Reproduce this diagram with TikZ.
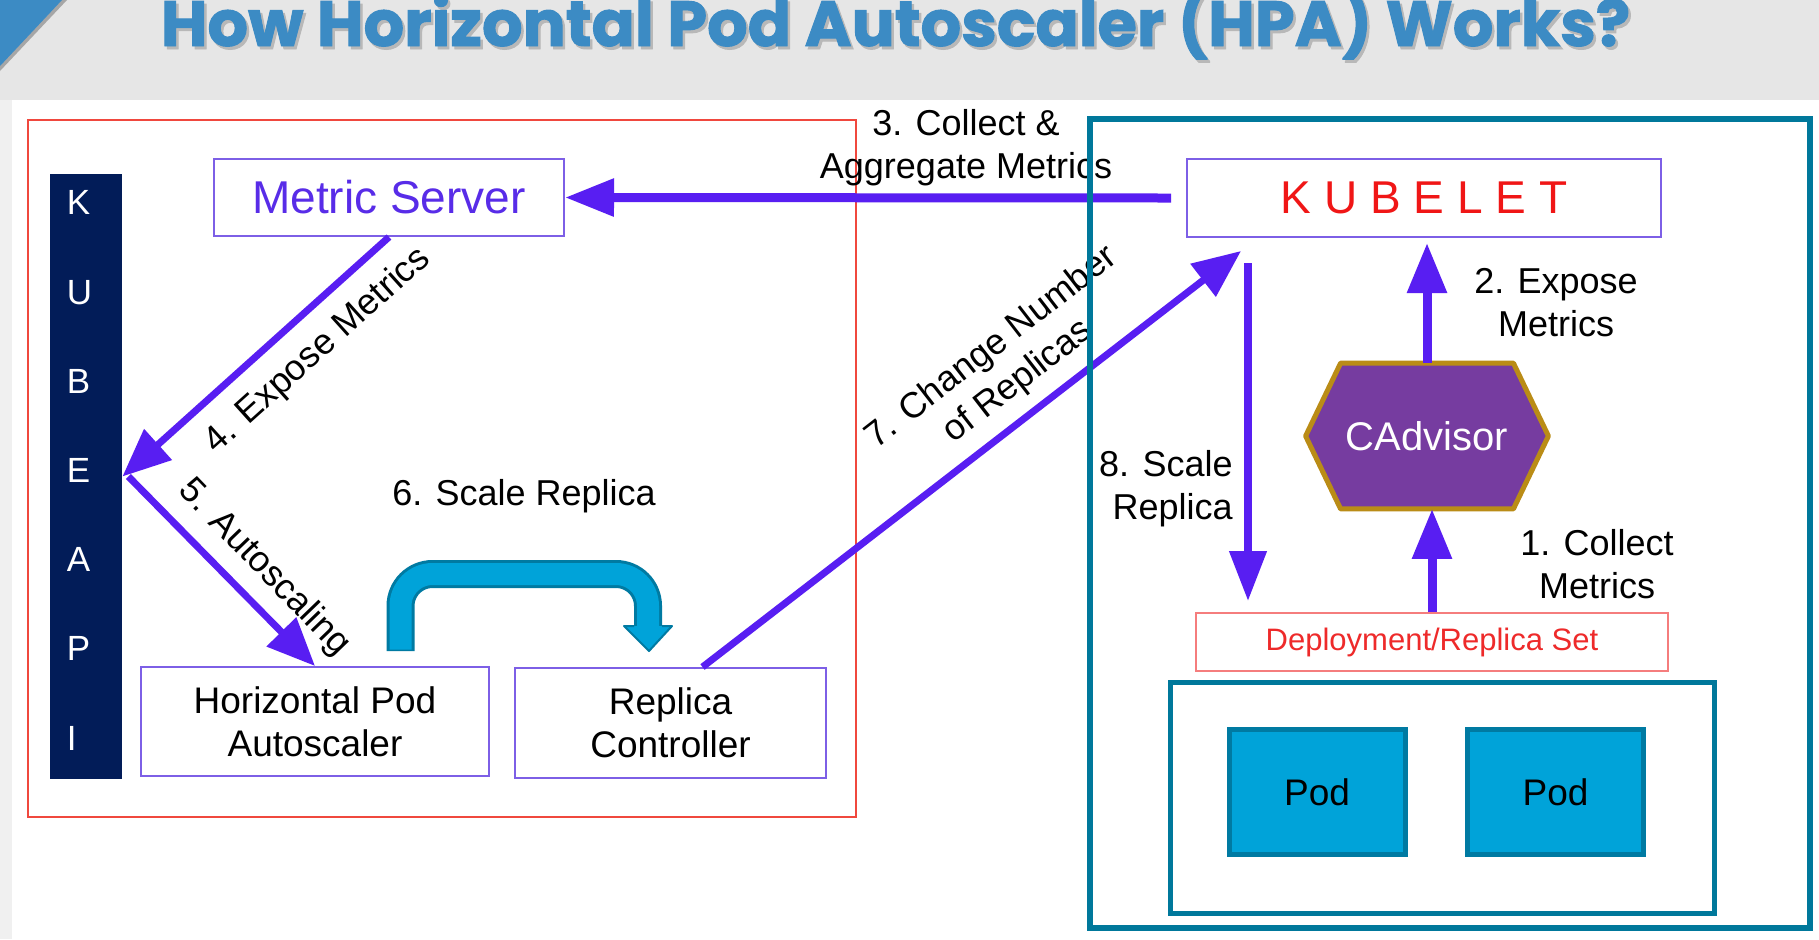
\documentclass[tikz,border=0pt]{standalone}
\usepackage{graphicx}
\usepackage{fontspec}
\setmainfont{Liberation Sans}
\newfontfamily\titlefont{Poppins}[BoldFeatures={FakeBold=1.5}]
\usetikzlibrary{arrows.meta,calc}
\definecolor{vio}{RGB}{88,30,242}
\definecolor{msvio}{RGB}{88,44,232}
\definecolor{boxpur}{RGB}{125,95,230}
\definecolor{kred}{RGB}{240,22,22}
\definecolor{dred}{RGB}{238,42,42}
\definecolor{dborder}{RGB}{245,125,125}
\definecolor{navy}{RGB}{2,28,88}
\definecolor{tealb}{RGB}{0,120,155}
\definecolor{podfill}{RGB}{0,163,217}
\definecolor{podborder}{RGB}{0,122,162}
\definecolor{cadfill}{RGB}{118,60,160}
\definecolor{cadborder}{RGB}{186,140,22}
\definecolor{redbox}{RGB}{240,72,62}
\definecolor{titleblue}{RGB}{60,139,196}
\definecolor{topgray}{RGB}{230,230,230}
\definecolor{sidegray}{RGB}{240,240,240}
\newcommand\labfont{\fontsize{18pt}{21.5pt}\selectfont}
\begin{document}
\begin{tikzpicture}[x=0.5pt,y=-0.5pt,
  box/.style={draw=boxpur, line width=1pt, fill=white, inner sep=0pt, align=center},
  lab/.style={font=\labfont, align=center, inner sep=0pt, text=black},
  arr/.style={draw=vio, line width=3.5pt, -{Triangle[length=24pt,width=20pt]}},
  varr/.style={draw=vio, line width=4.5pt, -{Triangle[length=25pt,width=19pt]}},
  podbox/.style={draw=podborder, line width=2.5pt, fill=podfill, minimum width=88pt, minimum height=62.5pt, font=\fontsize{18.5pt}{22pt}\selectfont, inner sep=0pt}
]
\useasboundingbox (0,0) rectangle (1819,939);
% background
\fill[white] (0,0) rectangle (1819,939);
\fill[topgray] (0,0) rectangle (1819,100);
\fill[sidegray] (0,100) rectangle (12,939);
\fill[black!35] (0,0) -- (67,0) -- (0,71) -- cycle;
\fill[titleblue] (0,0) -- (62,0) -- (0,66) -- cycle;
% title
\node[anchor=base, inner sep=0pt, text=black!28] (titleshadow) at (898,49)
  {\resizebox{734.5pt}{!}{\titlefont\bfseries How Horizontal Pod Autoscaler (HPA) Works?}};
\node[anchor=base, inner sep=0pt, text=titleblue] (title) at (895.5,46)
  {\resizebox{734.5pt}{!}{\titlefont\bfseries How Horizontal Pod Autoscaler (HPA) Works?}};
% red frame
\draw[redbox, line width=0.8pt] (28,120) rectangle (856,817);
% KUBE API bar
\node[fill=navy, minimum width=36pt, minimum height=302.5pt, inner sep=0pt] (kapi) at (86,476.5) {};
\node[anchor=west, inner sep=0pt, text=white, align=left, font=\fontsize{17.5pt}{44.6pt}\selectfont] (kapitext) at (66.5,470.5) {K\\U\\B\\E\\A\\P\\I};
% boxes
\node[box, minimum width=175pt, minimum height=38.5pt, text=msvio, font=\fontsize{23pt}{27pt}\selectfont] (ms) at (389,197.5) {Metric Server};
\node[box, minimum width=237pt, minimum height=39pt, text=kred, font=\fontsize{23pt}{27pt}\selectfont] (kubelet) at (1424,198) {K U B E L E T};
\node[box, minimum width=174pt, minimum height=54.5pt, font=\fontsize{18.5pt}{21.5pt}\selectfont] (hpa) at (315,721.5) {Horizontal Pod\\Autoscaler};
\node[box, minimum width=155.5pt, minimum height=55pt, font=\fontsize{18.5pt}{21.5pt}\selectfont] (rc) at (670.5,723) {Replica\\Controller};
\node[box, draw=dborder, minimum width=236pt, minimum height=29pt, text=dred, font=\fontsize{15.5pt}{18pt}\selectfont] (dep) at (1432,642) {Deployment/Replica Set};
% pods
\node[podbox] (pod1) at (1317,792) {Pod};
\node[podbox] (pod2) at (1555.5,792) {Pod};
% CAdvisor hexagon
\path (1427,436) node[minimum width=86pt, minimum height=72.5pt, inner sep=0pt] (cad) {};
\filldraw[fill=cadfill, draw=cadborder, line width=2.5pt, line join=round]
  (cad.north west) -- (cad.north east) -- ($(cad.east)+(35,0)$) -- (cad.south east)
  -- (cad.south west) -- ($(cad.west)+(-35,0)$) -- cycle;
\node[text=white, font=\fontsize{20pt}{24pt}\selectfont, inner sep=0pt] (cadtext) at (cad) {CAdvisor};
% arrows
\draw[draw=vio, line width=4.5pt, -{Triangle[length=24.5pt,width=18pt]}] ($(kubelet.west)+(-15,0)$) -- (ms.east);
\draw[arr] (ms.south) -- (kapi.east);
\draw[arr] ($(kapi.east)+(6,0)$) -- (hpa.north);
\draw[arr] ($(rc.north)+(32,0)$) -- ($(kubelet.south west)+(55,13)$);
\draw[draw=vio, line width=3.8pt, -{Triangle[length=25pt,width=18pt]}] ($(kubelet.south west)+(62,25)$) -- ($(dep.north west)+(53,-11)$);
\draw[varr] (cad.north) -- ($(cad.north |- kubelet.south)+(0,5)$);
\draw[varr] (dep.north) -- (dep.north |- cad.south);
% block arrow 6
\coordinate (a6s) at ($(hpa.north east)+(-89.5,-15)$);
\coordinate (a6e) at ($(rc.north)+(-22.5,-41)$);
\draw[podborder, line width=14pt, rounded corners=16pt] (a6s) -- ++(0,-77) -| ($(a6e)+(0,1)$);
\draw[podfill, line width=11pt, rounded corners=16pt] ($(a6s)+(0,-1.5)$) -- ++(0,-75.5) -| ($(a6e)+(0,2)$);
\fill[podfill] ($(a6e)+(-24,0)$) -- ($(a6e)+(24,0)$) -- ($(a6e)+(1,25)$) -- cycle;
\draw[podborder, line width=1pt, line join=round] ($(a6e)+(-14,0)$) -- ($(a6e)+(-24,0)$) -- ($(a6e)+(1,25)$) -- ($(a6e)+(24,0)$) -- ($(a6e)+(14,0)$);
% labels
\node[lab] (l3) at (966,148) {3. Collect \&\\Aggregate Metrics};
\node[lab] (l2) at (1556,303) {2. Expose\\Metrics};
\node[lab] (l1) at (1597,564.5) {1. Collect\\Metrics};
\node[lab, align=right, anchor=east] (l8) at (1233,488.5) {8. Scale\\Replica};
\node[lab] (l6) at (524,496) {6. Scale Replica};
\node[lab, rotate=42] (l4) at (318,351) {4. Expose Metrics};
\node[lab, rotate=-46] (l5) at (264,568) {5. Autoscaling};
\node[lab, rotate=37.8] (l7) at (1005,365) {7. Change Number\\of Replicas};
% teal frames
\draw[tealb, line width=3pt] (1090,119) rectangle (1810,928);
\draw[tealb, line width=2.5pt] (1170,682) rectangle (1714,913);
\end{tikzpicture}
\end{document}
